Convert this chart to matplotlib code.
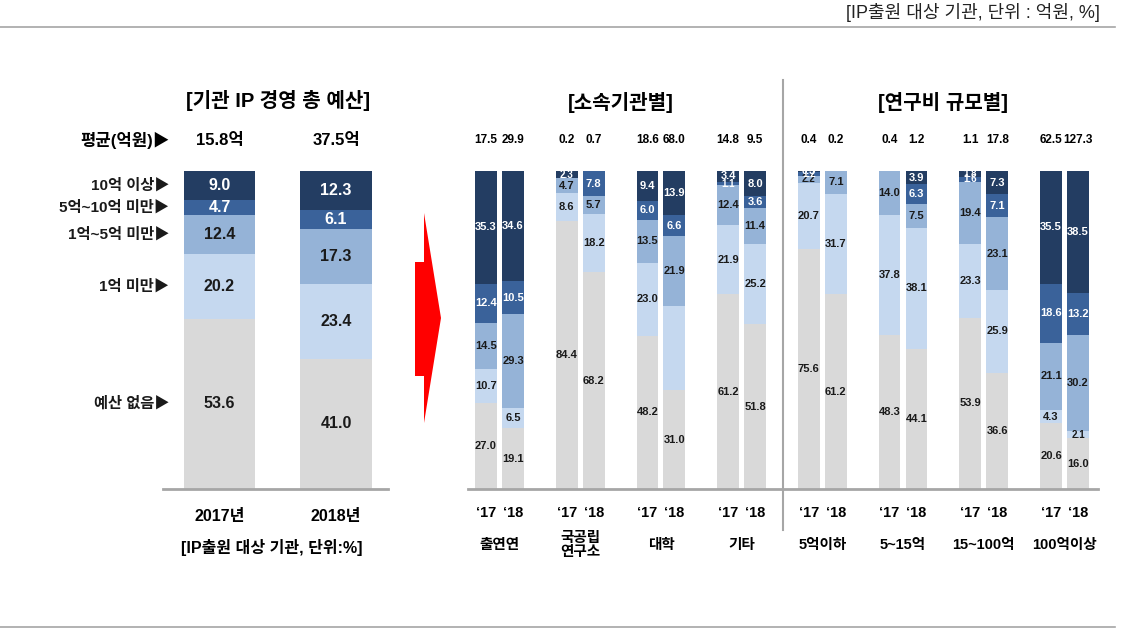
import matplotlib
matplotlib.use("Agg")
import matplotlib.pyplot as plt
import numpy as np
from matplotlib.patches import Polygon
from matplotlib.lines import Line2D

plt.rcParams["font.family"] = ["Liberation Sans", "Noto Sans CJK KR", "DejaVu Sans"]

W, H = 1131, 644

# ---- left panel data (share of institutions, %) ----
years = ["2017년", "2018년"]
avg_total = ["15.8억", "37.5억"]
seg_names = ["예산 없음▶", "1억 미만▶", "1억~5억 미만▶", "5억~10억 미만▶", "10억 이상▶"]
left_none = [53.6, 41.0]
left_lt1 = [20.2, 23.4]
left_1to5 = [12.4, 17.3]
left_5to10 = [4.7, 6.1]
left_ge10 = [9.0, 12.3]

# ---- right panel data ----
groups = ["출연연", "국공립\n연구소", "대학", "기타", "5억이하", "5~15억", "15~100억", "100억이상"]
avg_17 = [17.5, 0.2, 18.6, 14.8, 0.4, 0.4, 1.1, 62.5]
avg_18 = [29.9, 0.7, 68.0, 9.5, 0.2, 1.2, 17.8, 127.3]

none_17 = [27.0, 84.4, 48.2, 61.2, 75.6, 48.3, 53.9, 20.6]
lt1_17 = [10.7, 8.6, 23.0, 21.9, 20.7, 37.8, 23.3, 4.3]
b15_17 = [14.5, 4.7, 13.5, 12.4, 2.2, 14.0, 19.4, 21.1]
b510_17 = [12.4, 0.0, 6.0, 1.1, 1.2, 0.0, 1.6, 18.6]
ge10_17 = [35.3, 2.3, 9.4, 3.4, 0.3, 0.0, 1.8, 35.5]

none_18 = [19.1, 68.2, 31.0, 51.8, 61.2, 44.1, 36.6, 16.0]
lt1_18 = [6.5, 18.2, 26.6, 25.2, 31.7, 38.1, 25.9, 2.1]
b15_18 = [29.3, 5.7, 21.9, 11.4, 7.1, 7.5, 23.1, 30.2]
b510_18 = [10.5, 7.8, 6.6, 3.6, 0.0, 6.3, 7.1, 13.2]
ge10_18 = [34.6, 0.0, 13.9, 8.0, 0.0, 3.9, 7.3, 38.5]

# (group, year index, segment index) shown without a number in the source
unlabeled = [(2, 1, 1)]

colors = ["#D9D9D9", "#C5D8EF", "#95B3D7", "#3A629A", "#233D62"]
text_colors = ["#1a1a1a", "#1a1a1a", "#1a1a1a", "white", "white"]
line_gray = "#A6A6A6"


def px(x, y):
    return (x / W, 1 - y / H)


fig = plt.figure(figsize=(W / 100, H / 100), dpi=100)

# frame lines and caption
fig.add_artist(Line2D([0, 1115 / W], [1 - 27 / H] * 2, color=line_gray, lw=1.2))
fig.add_artist(Line2D([0, 1115 / W], [1 - 627 / H] * 2, color=line_gray, lw=1.2))
fig.text(*px(1100, 12), "[IP출원 대상 기관, 단위 : 억원, %]", ha="right", va="center",
         fontsize=13, color="#222222")

# ---------------- left panel ----------------
axl = fig.add_axes([163 / W, 1 - 489 / H, (388 - 163) / W, 318 / H])
xl = np.arange(len(years))
left_stack = [left_none, left_lt1, left_1to5, left_5to10, left_ge10]
bottom = np.zeros(len(years))
for k, vals in enumerate(left_stack):
    vals = np.array(vals)
    axl.bar(xl, vals, 0.61, bottom=bottom, color=colors[k], linewidth=0)
    for i, v in enumerate(vals):
        axl.text(xl[i], bottom[i] + v / 2, f"{v:.1f}", ha="center", va="center",
                 fontsize=11.5, fontweight="bold", color=text_colors[k])
    # category names on the left, at the 2017 segment centres
    axl.text(-0.43, bottom[0] + vals[0] / 2, seg_names[k], ha="right", va="center",
             fontsize=11, fontweight="bold", color="#1a1a1a", clip_on=False)
    bottom += vals

axl.set_xlim(-0.485, 1.446)
axl.set_ylim(0, 100)
axl.axis("off")
axl.plot([-0.485, 1.446], [0, 0], color=line_gray, lw=2, clip_on=False)
axl.text(0.5, 122.3, "[기관 IP 경영 총 예산]", ha="center", va="center",
         fontsize=14.5, fontweight="bold", clip_on=False)
axl.text(-0.43, 109.7, "평균(억원)▶", ha="right", va="center",
         fontsize=12, fontweight="bold", clip_on=False)
for i in range(len(years)):
    axl.text(xl[i], 109.7, avg_total[i], ha="center", va="center",
             fontsize=12, fontweight="bold", clip_on=False)
    axl.text(xl[i], -8.5, years[i], ha="center", va="center",
             fontsize=11.5, fontweight="bold", clip_on=False)
axl.text(0.45, -18.5, "[IP출원 대상 기관, 단위:%]", ha="center", va="center",
         fontsize=11.5, fontweight="bold", clip_on=False)

# red arrow
arrow = Polygon([px(424, 213), px(441, 318), px(424, 423), px(424, 376),
                 px(415, 376), px(415, 262), px(424, 262)],
                closed=True, transform=fig.transFigure, facecolor="#FF0000",
                edgecolor="none")
fig.add_artist(arrow)

# ---------------- right panel ----------------
axr = fig.add_axes([468 / W, 1 - 489 / H, (1098 - 468) / W, 318 / H])
xg = np.arange(len(groups))
offset = 0.167
bw = 0.27
year_stacks = [
    [none_17, lt1_17, b15_17, b510_17, ge10_17],
    [none_18, lt1_18, b15_18, b510_18, ge10_18],
]
year_avgs = [avg_17, avg_18]
year_tags = ["‘17", "‘18"]

for y, stack in enumerate(year_stacks):
    xpos = xg + (offset if y else -offset)
    bottom = np.zeros(len(groups))
    for k, vals in enumerate(stack):
        vals = np.array(vals)
        axr.bar(xpos, vals, bw, bottom=bottom, color=colors[k], linewidth=0)
        for i, v in enumerate(vals):
            if v <= 0 or (i, y, k) in unlabeled:
                continue
            axr.text(xpos[i], bottom[i] + v / 2, f"{v:.1f}", ha="center", va="center",
                     fontsize=8 if v >= 2.5 else 7, fontweight="bold",
                     color=text_colors[k])
        bottom += vals
    for i in range(len(groups)):
        axr.text(xpos[i], 109.7, f"{year_avgs[y][i]:.1f}", ha="center", va="center",
                 fontsize=8.5, fontweight="bold", clip_on=False)
        axr.text(xpos[i], -7.5, year_tags[y], ha="center", va="center",
                 fontsize=10.5, fontweight="bold", clip_on=False)

for i, name in enumerate(groups):
    axr.text(xg[i], -17.6, name, ha="center", va="center", fontsize=10.5,
             fontweight="bold", linespacing=1.0, clip_on=False)

axr.set_xlim(-0.39, 7.415)
axr.set_ylim(0, 100)
axr.axis("off")
axr.plot([-0.39, 7.415], [0, 0], color=line_gray, lw=2, clip_on=False)
axr.plot([3.51, 3.51], [-12.9, 128.6], color=line_gray, lw=1.5, clip_on=False)
axr.text(1.5, 121.4, "[소속기관별]", ha="center", va="center",
         fontsize=14.5, fontweight="bold", clip_on=False)
axr.text(5.5, 121.4, "[연구비 규모별]", ha="center", va="center",
         fontsize=14.5, fontweight="bold", clip_on=False)

fig.savefig("out.png", dpi=100)
